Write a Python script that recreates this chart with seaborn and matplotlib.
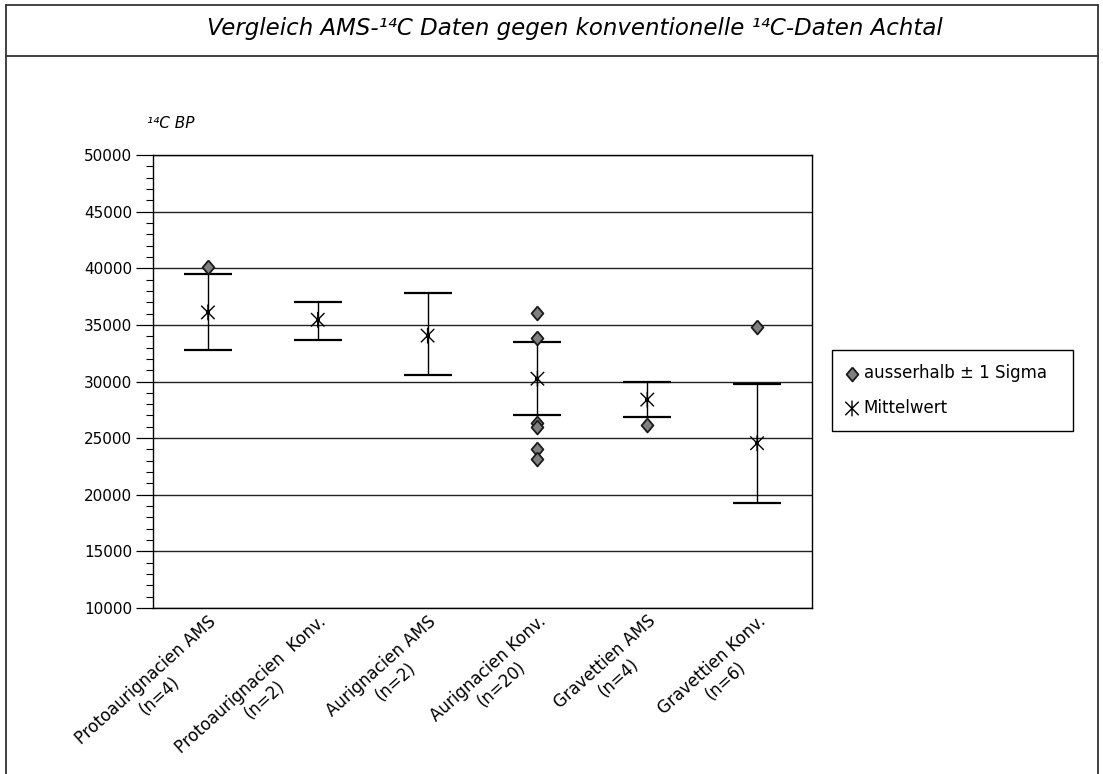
import numpy as np
import pandas as pd
import matplotlib
matplotlib.use("Agg")
import matplotlib.pyplot as plt
import seaborn as sns
from matplotlib.path import Path
from matplotlib.lines import Line2D
from matplotlib.ticker import MultipleLocator

# ---------------- data ----------------
categories = [
    "Protoaurignacien AMS\n(n=4)",
    "Protoaurignacien  Konv.\n(n=2)",
    "Aurignacien AMS\n(n=2)",
    "Aurignacien Konv.\n(n=20)",
    "Gravettien AMS\n(n=4)",
    "Gravettien Konv.\n(n=6)",
]
mean_values = [36100, 35450, 34050, 30250, 28400, 24550]
upper_values = [39450, 37050, 37800, 33500, 30000, 29750]
lower_values = [32800, 33700, 30600, 27050, 26900, 19300]

outlier_groups = [0, 3, 3, 3, 3, 3, 3, 4, 5]
outlier_values = [40150, 36050, 33800, 26300, 26000, 24050, 23150, 26150, 34850]

y_ticks = [10000, 15000, 20000, 25000, 30000, 35000, 40000, 45000, 50000]

title_text = "Vergleich AMS-\u00b9\u2074C Daten gegen konventionelle \u00b9\u2074C-Daten Achtal"
ylabel_text = "\u00b9\u2074C BP"
legend_outlier = "ausserhalb \u00b1 1 Sigma"
legend_mean = "Mittelwert"

# ---------------- style ----------------
sns.set_theme(style="white")
plt.rcParams["font.family"] = ["DejaVu Sans"]
plt.rcParams["text.color"] = "black"

W, H = 1103, 774
fig = plt.figure(figsize=(W / 100, H / 100), dpi=100)
fig.patch.set_facecolor("white")

ax = fig.add_axes([153 / W, 1 - 608 / H, 659 / W, 453 / H])

x_pos = np.arange(len(categories))
means_df = pd.DataFrame({"x": x_pos, "mean": mean_values})
out_df = pd.DataFrame({"x": outlier_groups, "value": outlier_values})

mean_arr = np.array(mean_values)
err_low = mean_arr - np.array(lower_values)
err_high = np.array(upper_values) - mean_arr

# error bars (±1 sigma)
ax.errorbar(x_pos, mean_values, yerr=[err_low, err_high], fmt="none",
            ecolor="black", elinewidth=1.0, capsize=17, capthick=1.6, zorder=3)

# asterisk marker for mean, diamond for outliers
ast = Path([(0, -1), (0, 1), (-0.85, -0.85), (0.85, 0.85), (-0.85, 0.85), (0.85, -0.85)],
           [Path.MOVETO, Path.LINETO] * 3)
diamond = [(0, 1), (0.85, 0), (0, -1), (-0.85, 0), (0, 1)]

sns.scatterplot(data=out_df, x="x", y="value", marker=diamond, s=100,
                color="#808080", edgecolor="#1a1a1a", linewidth=1.3,
                zorder=5, ax=ax, label=legend_outlier)
sns.scatterplot(data=means_df, x="x", y="mean", marker=ast, s=130,
                color="black", facecolor="none", edgecolor="black",
                linewidth=1.0, zorder=4, ax=ax, label=legend_mean)
sns.scatterplot(data=means_df, x="x", y="mean", marker="s", s=6,
                color="black", edgecolor="black", linewidth=0, zorder=4, ax=ax)

# axes
ax.set_xlim(-0.5, len(categories) - 0.5)
ax.set_ylim(10000, 50000)
ax.set_yticks(y_ticks)
ax.set_yticklabels([str(v) for v in y_ticks])
ax.yaxis.set_minor_locator(MultipleLocator(1000))
ax.set_xticks(x_pos)
ax.set_xticklabels(categories, rotation=42, ha="right", va="top",
                   rotation_mode="anchor", multialignment="center")
ax.set_xlabel("")
ax.set_ylabel("")

ax.set_axisbelow(True)
ax.yaxis.grid(True, color="#222222", linewidth=1.0)
ax.xaxis.grid(False)
for s in ax.spines.values():
    s.set_visible(True)
    s.set_color("black")
    s.set_linewidth(1.0)

ax.tick_params(axis="y", which="major", left=True, direction="out", length=12,
               width=0.9, color="black", labelsize=11, pad=3, labelcolor="black")
ax.tick_params(axis="y", which="minor", left=True, direction="out", length=5,
               width=0.8, color="black")
ax.tick_params(axis="x", which="both", bottom=False, length=0, labelsize=12,
               pad=3, labelcolor="black")

# legend
handles, labels = ax.get_legend_handles_labels()
order = [labels.index(legend_outlier), labels.index(legend_mean)]
leg = ax.legend([handles[i] for i in order], [labels[i] for i in order],
                loc="upper left", bbox_to_anchor=(832 / W, 1 - 437 / H, 241 / W, 87 / H),
                bbox_transform=fig.transFigure, mode="expand", frameon=True,
                fancybox=False, edgecolor="black", framealpha=1, fontsize=12,
                handletextpad=0.35, handlelength=0.7, borderpad=0.85,
                labelspacing=1.0, borderaxespad=0)
leg.get_frame().set_linewidth(1.0)
for t in leg.get_texts():
    t.set_color("black")

# title, axis label and page frame
fig.text(575 / W, 1 - 29 / H, title_text, ha="center", va="center",
         fontsize=16.5, style="italic", color="black")
fig.text(147 / W, 1 - 124 / H, ylabel_text, ha="left", va="center",
         fontsize=11, style="italic", color="black")

frame_kw = dict(color="#333333", linewidth=1.3, transform=fig.transFigure)
fig.add_artist(Line2D([6 / W, 6 / W], [0, 1 - 5 / H], **frame_kw))
fig.add_artist(Line2D([1098 / W, 1098 / W], [0, 1 - 5 / H], **frame_kw))
fig.add_artist(Line2D([6 / W, 1098 / W], [1 - 5 / H, 1 - 5 / H], **frame_kw))
fig.add_artist(Line2D([6 / W, 1098 / W], [1 - 56 / H, 1 - 56 / H], **frame_kw))

fig.savefig("out.png", dpi=100)
